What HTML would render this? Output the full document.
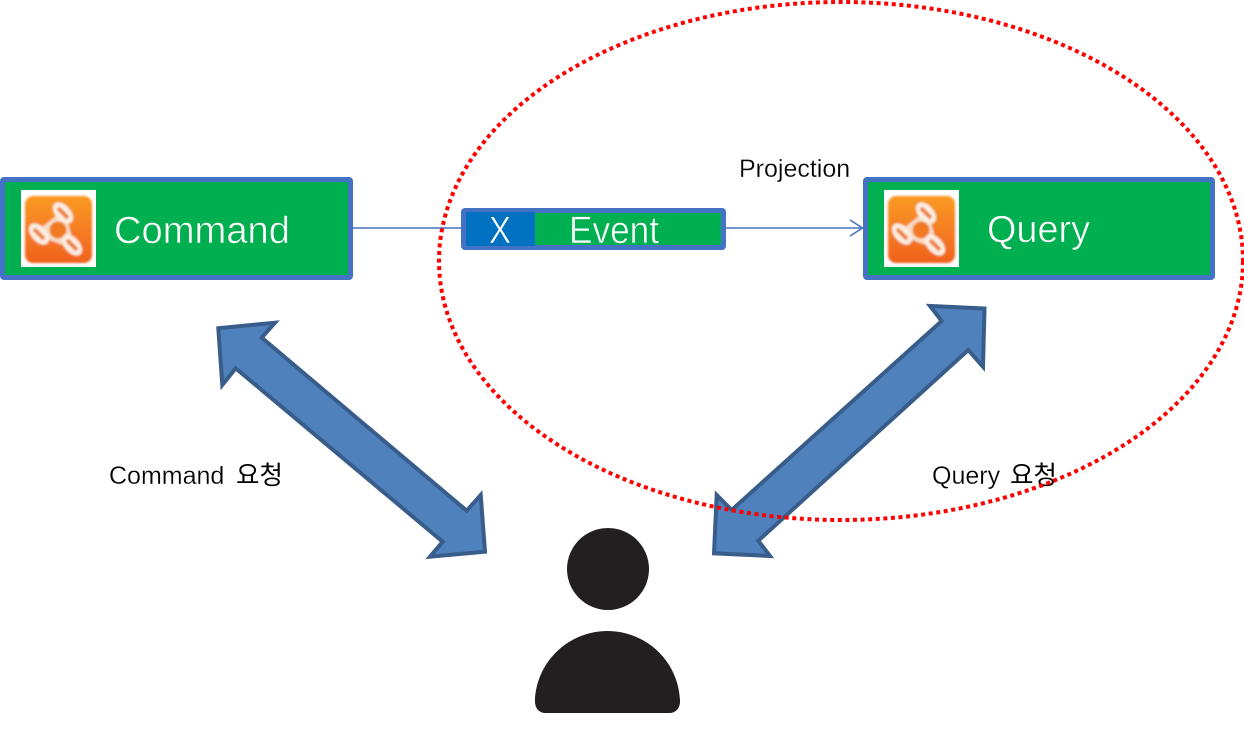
<!DOCTYPE html>
<html lang="ko">
<head>
<meta charset="utf-8">
<title>CQRS Diagram</title>
<style>
html,body{margin:0;padding:0;background:#fff;width:1244px;height:745px;overflow:hidden}
svg{display:block}
text{font-family:"Liberation Sans","Noto Sans CJK KR",sans-serif}
</style>
</head>
<body>
<svg width="1244" height="745" viewBox="0 0 1244 745" xmlns="http://www.w3.org/2000/svg">
<defs>
<linearGradient id="og" x1="0" y1="0" x2="0" y2="1">
<stop offset="0" stop-color="#fa9a22"/>
<stop offset="1" stop-color="#f0621f"/>
</linearGradient>
<filter id="bl" x="-8%" y="-8%" width="116%" height="116%"><feGaussianBlur stdDeviation="1"/></filter>
<g id="icon">
<rect x="0" y="0" width="75" height="77" fill="#fff"/>
<g filter="url(#bl)">
<rect x="4" y="6" width="67" height="67" rx="8" fill="url(#og)"/>
<path d="M42 24 L18 43 L50 55 Z" fill="none" stroke="#f8dcc6" stroke-width="5.5" stroke-linejoin="round"/>
<circle cx="37" cy="40" r="10" fill="#f07a20" stroke="#f8dcc6" stroke-width="3"/>
<ellipse cx="42" cy="23" rx="7.5" ry="12.5" transform="rotate(-42 42 23)" fill="#fbeee2"/>
<ellipse cx="18" cy="44" rx="7.5" ry="12.5" transform="rotate(-42 18 44)" fill="#fbeee2"/>
<ellipse cx="51" cy="55" rx="7.5" ry="12.5" transform="rotate(-42 51 55)" fill="#fbeee2"/>
<line x1="37" y1="18" x2="47" y2="28" stroke="#f07a28" stroke-width="4"/>
<line x1="13" y1="39" x2="23" y2="49" stroke="#f07a28" stroke-width="4"/>
<line x1="46" y1="50" x2="56" y2="60" stroke="#f07a28" stroke-width="4"/>
</g>
</g>
</defs>

<!-- connectors -->
<line x1="353" y1="228" x2="461" y2="228" stroke="#4472c4" stroke-width="1.6"/>
<line x1="726" y1="228" x2="862" y2="228" stroke="#4472c4" stroke-width="1.6"/>
<path d="M850 220 L862.5 228 L850 236" fill="none" stroke="#4472c4" stroke-width="1.6"/>

<!-- Command -->
<rect x="2.5" y="179.5" width="348" height="98" rx="1.5" fill="#00b050" stroke="#4472c4" stroke-width="5"/>
<use href="#icon" x="21" y="190"/>
<text x="114" y="243" font-size="38" fill="#fff" stroke="#00b050" stroke-width="0.6" textLength="176" lengthAdjust="spacingAndGlyphs">Command</text>

<!-- Event -->
<rect x="463.5" y="210.5" width="260" height="37" rx="1.5" fill="#00b050" stroke="#4472c4" stroke-width="5"/>
<rect x="466" y="212" width="69" height="34" fill="#0070c0"/>
<text x="489" y="243" font-size="38" fill="#fff" stroke="#0070c0" stroke-width="0.6" textLength="22" lengthAdjust="spacingAndGlyphs">X</text>
<text x="569" y="243" font-size="38" fill="#fff" stroke="#00b050" stroke-width="0.6" textLength="90" lengthAdjust="spacingAndGlyphs">Event</text>

<!-- Query -->
<rect x="865.5" y="179.5" width="347" height="98" rx="1.5" fill="#00b050" stroke="#4472c4" stroke-width="5"/>
<use href="#icon" x="884" y="190"/>
<text x="987" y="242" font-size="38" fill="#fff" stroke="#00b050" stroke-width="0.6" textLength="103" lengthAdjust="spacingAndGlyphs">Query</text>

<!-- Arrows -->
<polygon points="218.3,328.3 275,322.7 261.7,337.7 466.7,510.7 480.7,495 485,551.7 430,556.7 442.7,541.7 235.7,368.3 222.3,385" fill="#4f81bd" stroke="#385d8a" stroke-width="4"/>
<polygon points="984.5,308.5 930,306 941.7,321 731.7,510 716.7,495 714,553.3 770,556 758.3,540.7 968.3,350 983,366.7" fill="#4f81bd" stroke="#385d8a" stroke-width="4"/>

<!-- Labels -->
<text x="739" y="177" font-size="25" fill="#000" stroke="#fff" stroke-width="0.25">Projection</text>
<text x="109" y="484" font-size="25" fill="#000" stroke="#fff" stroke-width="0.25">Command</text>
<text x="236" y="484" font-size="25.5" fill="#000">요청</text>
<text x="932" y="484" font-size="25" fill="#000" stroke="#fff" stroke-width="0.25">Query</text>
<text x="1010" y="484" font-size="25.5" fill="#000">요청</text>

<!-- Person -->
<circle cx="608" cy="569" r="41" fill="#231f20"/>
<path d="M535 700 C537 660 570 631 607.5 631 C645 631 678 660 680 700 C680.5 708 676 713 669 713 L546 713 C539 713 534.5 708 535 700 Z" fill="#231f20"/>

<!-- Dotted ellipse -->
<ellipse cx="841" cy="261" rx="402" ry="259" fill="none" stroke="#ff0000" stroke-width="4" stroke-dasharray="4 3.6"/>
</svg>
</body>
</html>
